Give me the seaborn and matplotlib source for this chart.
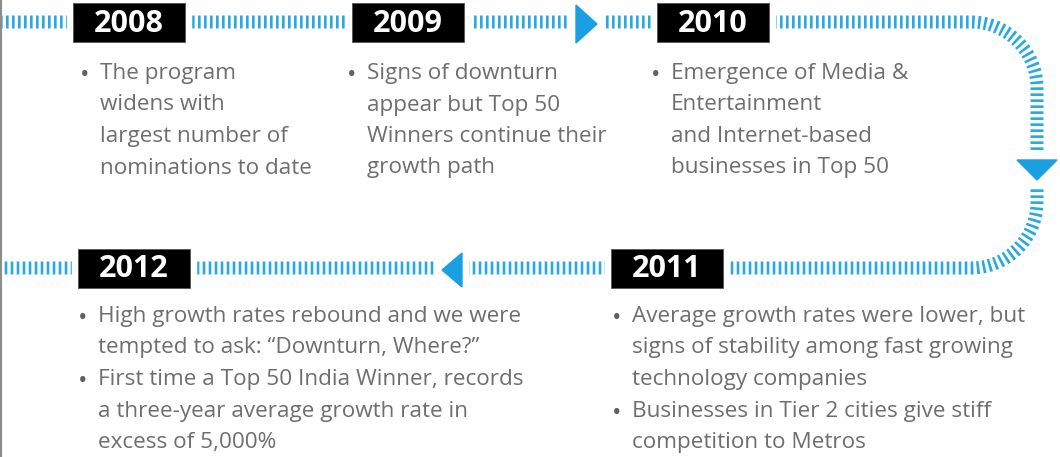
import numpy as np
import matplotlib
matplotlib.use("Agg")
import matplotlib.pyplot as plt
import seaborn as sns
from matplotlib.patches import Rectangle, Polygon

sns.set_theme(style='white')
plt.rcParams['font.family'] = ['Open Sans', 'DejaVu Sans']
plt.rcParams['lines.scale_dashes'] = False

# timeline content
years = ['2008', '2009', '2010', '2011', '2012']
bullets = {
    '2008': [['The program', 'widens with', 'largest number of', 'nominations to date']],
    '2009': [['Signs of downturn', 'appear but Top 50', 'Winners continue their', 'growth path']],
    '2010': [['Emergence of Media &', 'Entertainment', 'and Internet-based', 'businesses in Top 50']],
    '2011': [['Average growth rates were lower, but', 'signs of stability among fast growing',
              'technology companies'],
             ['Businesses in Tier 2 cities give stiff', 'competition to Metros']],
    '2012': [['High growth rates rebound and we were', 'tempted to ask: \u201cDownturn, Where?\u201d'],
             ['First time a Top 50 India Winner, records', 'a three-year average growth rate in',
              'excess of 5,000%']],
}

# layout (pixel space)
box_centre = {'2008': (128.5, 22.5), '2009': (408, 22.5), '2010': (713, 22.5),
              '2011': (666.5, 268), '2012': (134, 268)}
text_start = {'2008': (100, 79), '2009': (367, 79), '2010': (671, 79),
              '2011': (632, 322), '2012': (98, 322)}
BOX_W, BOX_H = 112, 39
LINE_GAP = 31.5
TOP_Y, BOT_Y, RIGHT_X, R = 22, 268, 1037, 66
BODY_SIZE = 16.2

BLUE = '#2aa9e0'
ARROW = '#1aa0e2'
GREY = '#6e6e70'

fig = plt.figure(figsize=(10.6, 4.57), dpi=100)
ax = fig.add_axes([0, 0, 1, 1])
ax.set_xlim(0, 1060)
ax.set_ylim(457, 0)
ax.axis('off')

# dashed path: top run, right-hand bend, bottom run
t = np.linspace(np.pi / 2, 0, 40)
arc1_x = RIGHT_X - R + R * np.cos(t)
arc1_y = TOP_Y + R - R * np.sin(t)
t2 = np.linspace(0, np.pi / 2, 40)
arc2_x = RIGHT_X - R + R * np.cos(t2)
arc2_y = BOT_Y - R + R * np.sin(t2)
px = np.concatenate([[0], arc1_x, arc2_x, [0]])
py = np.concatenate([[TOP_Y], arc1_y, arc2_y, [BOT_Y]])
sns.lineplot(x=px, y=py, sort=False, estimator=None, ax=ax, color=BLUE,
             lw=13 * 0.72, solid_capstyle='butt', dash_capstyle='butt')
ax.lines[-1].set_dashes((1.9, 2.42))

# arrows: (tip direction, centre x, centre y, length, width)
arrows = [('right', 586.5, 24, 21, 38), ('down', 1037, 170, 20, 40), ('left', 452, 270, 20, 34)]
for d, cx, cy, ln, wd in arrows:
    if d in ('right', 'left'):
        ax.add_patch(Rectangle((cx - ln / 2 - 6, cy - 18), ln + 12, 36, color='white', zorder=3))
        s = 1 if d == 'right' else -1
        pts = [(cx - s * ln / 2, cy - wd / 2), (cx - s * ln / 2, cy + wd / 2), (cx + s * ln / 2, cy)]
    else:
        ax.add_patch(Rectangle((cx - 25, cy - ln / 2 - 8), 50, ln + 14, color='white', zorder=3))
        pts = [(cx - wd / 2, cy - ln / 2), (cx + wd / 2, cy - ln / 2), (cx, cy + ln / 2)]
    ax.add_patch(Polygon(pts, closed=True, color=ARROW, zorder=4))

# year boxes
for y in years:
    cx, cy = box_centre[y]
    ax.add_patch(Rectangle((cx - BOX_W / 2 - 6, cy - BOX_H / 2 - 2), BOX_W + 12, BOX_H + 4,
                           color='white', zorder=3))
    ax.add_patch(Rectangle((cx - BOX_W / 2, cy - BOX_H / 2), BOX_W, BOX_H,
                           facecolor='black', edgecolor='#555555', lw=0.6, zorder=4))
    ax.text(cx, cy + 1, y, color='white', fontsize=22, fontweight='bold',
            ha='center', va='center', zorder=5)

# bullet text
for y in years:
    x0, y0 = text_start[y]
    i = 0
    for item in bullets[y]:
        ax.text(x0 - 15, y0 + i * LINE_GAP + 3, '\u2022', color='#606062', fontsize=18,
                ha='center', va='baseline')
        for ln in item:
            ax.text(x0, y0 + i * LINE_GAP, ln, color=GREY, fontsize=BODY_SIZE,
                    ha='left', va='baseline')
            i += 1

# thin grey frame on the left edge
ax.plot([1, 1], [0, 457], color='#8c8c8c', lw=1.5)

fig.savefig('out.png', dpi=100, facecolor='white')
